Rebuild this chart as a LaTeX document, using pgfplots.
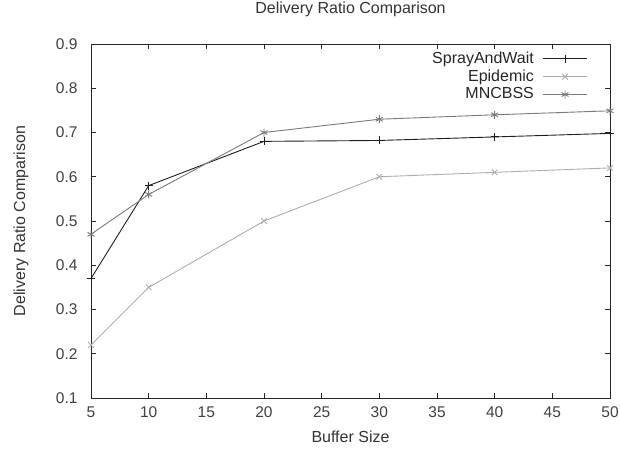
\documentclass[border=0pt]{standalone}
\usepackage{fontspec}
\setmainfont{Liberation Sans}
\usepackage{pgfplots}
\pgfplotsset{compat=1.18}
\definecolor{cSW}{HTML}{1E1E1E}
\definecolor{cEP}{HTML}{ADADAD}
\definecolor{cMN}{HTML}{7A7A7A}
\begin{document}
\fontsize{16}{19}\selectfont
\begin{tikzpicture}
\useasboundingbox (-91pt,-58pt) rectangle (529pt,398pt);
\begin{axis}[
  scale only axis, width=519pt, height=354pt,
  at={(0pt,0pt)}, anchor=south west,
  xmin=5, xmax=50, ymin=0.1, ymax=0.9,
  xtick={5,10,15,20,25,30,35,40,45,50},
  ytick={0.1,0.2,0.3,0.4,0.5,0.6,0.7,0.8,0.9},
  tick align=inside, tick pos=both, major tick length=5pt,
  axis line style={black!85, line width=0.9pt},
  tick style={black!85, line width=0.8pt},
  /pgf/number format/assume math mode=true,
  yticklabel style={/pgf/number format/fixed, /pgf/number format/fixed zerofill, /pgf/number format/precision=1, xshift=-8pt, text=black!75},
  xticklabel style={yshift=-3pt, text=black!75},
  ticklabel style={font=\fontsize{15.5}{18}\selectfont},
  title={Delivery Ratio Comparison},
  title style={at={(axis description cs:0.5,1.0819)}, anchor=center, text=black!80, font=\fontsize{16}{19}\selectfont},
  xlabel={Buffer Size},
  xlabel style={at={(axis description cs:0.5,-0.1102)}, anchor=center, text=black!80, font=\fontsize{16}{19}\selectfont},
  ylabel={Delivery Ratio Comparison},
  ylabel style={at={(axis description cs:-0.1349,0.5)}, anchor=center, rotate=0, text=black!80, font=\fontsize{16}{19}\selectfont},
  legend style={draw=none, fill=none, at={(0.9628,0.99)}, anchor=north east, column sep=6.7pt, row sep=0pt, font=\fontsize{16}{19}\selectfont, text=black!85},
  legend cell align=right, legend plot pos=right,
  legend image code/.code={\draw[mark repeat=2,mark phase=2] plot coordinates {(0pt,0pt)(22pt,0pt)(44pt,0pt)};},
  every axis plot/.append style={line width=0.9pt, mark size=4pt, mark options={solid}},
]
\addplot[color=cSW, mark=+] coordinates {(5,0.37) (10,0.58) (20,0.68) (30,0.682) (40,0.690) (50,0.698)};
\addlegendentry{SprayAndWait}
\addplot[color=cEP, mark=x] coordinates {(5,0.22) (10,0.35) (20,0.50) (30,0.60) (40,0.61) (50,0.62)};
\addlegendentry{Epidemic}
\addplot[color=cMN, mark=asterisk] coordinates {(5,0.47) (10,0.56) (20,0.70) (30,0.73) (40,0.74) (50,0.749)};
\addlegendentry{MNCBSS}
\end{axis}
\end{tikzpicture}
\end{document}
